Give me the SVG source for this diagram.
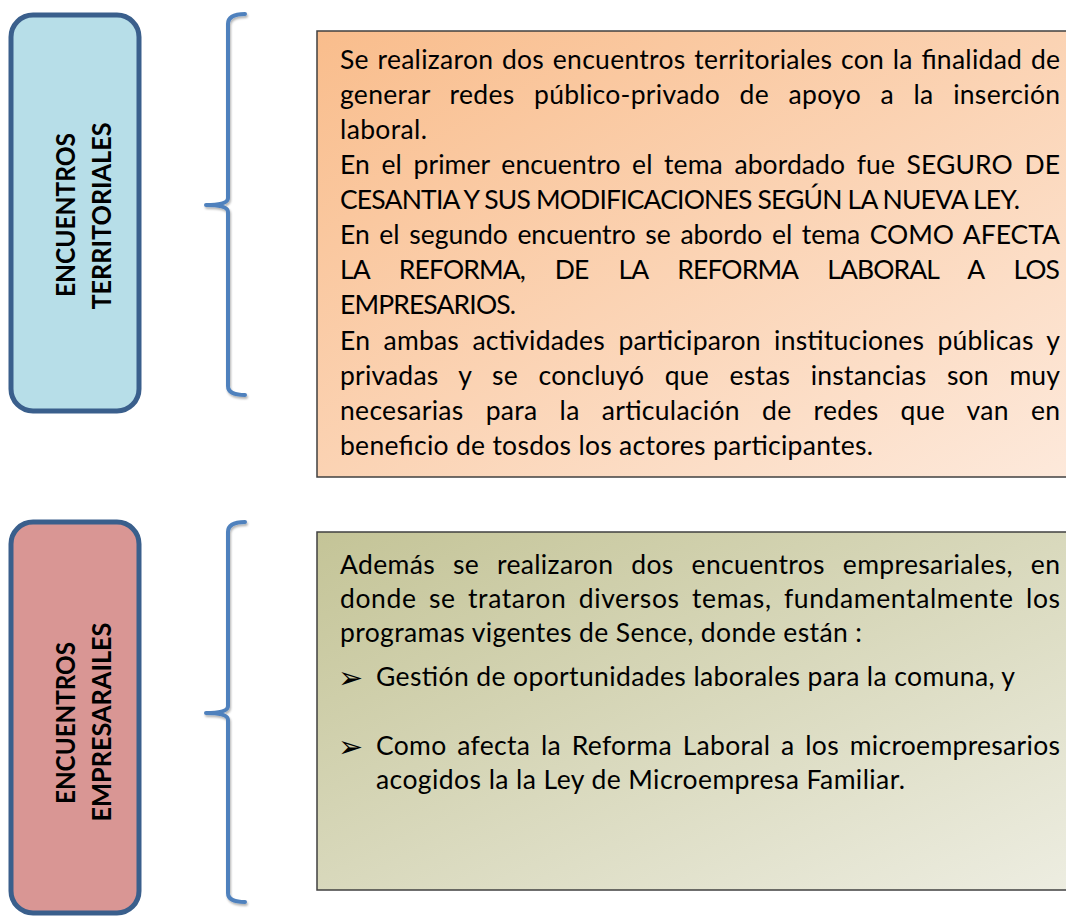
<svg xmlns="http://www.w3.org/2000/svg" width="1066" height="916" viewBox="0 0 1066 916">
  <defs>
    <linearGradient id="gOrange" x1="0" y1="0" x2="1" y2="1">
      <stop offset="0" stop-color="#F9BD8C"/>
      <stop offset="1" stop-color="#FDE9DB"/>
    </linearGradient>
    <linearGradient id="gOlive" x1="0" y1="0" x2="1" y2="1">
      <stop offset="0" stop-color="#C4C497"/>
      <stop offset="1" stop-color="#EDEDE1"/>
    </linearGradient>
    <filter id="shadow" x="-20%" y="-5%" width="140%" height="110%">
      <feDropShadow dx="1" dy="2" stdDeviation="1.2" flood-color="#000" flood-opacity="0.3"/>
    </filter>
  </defs>
  <style>
    .cat { stroke: #3A5F8C; stroke-width: 5; }
    .lbl { font-family: Lato, "Open Sans", "Liberation Sans", sans-serif; font-weight: bold; font-size: 26px; fill: #000; text-anchor: middle; }
    .brace { fill: none; stroke: #4F81BD; stroke-width: 4; stroke-linecap: round; stroke-linejoin: round; filter: url(#shadow); }
    .box { stroke: #404040; stroke-width: 1.5; }
    .t { font-family: Lato, "Open Sans", "Liberation Sans", sans-serif; font-size: 26.5px; fill: #000; }
    .bul { font-family: "DejaVu Sans", sans-serif; font-size: 30px; fill: #000; }
  </style>

  <rect width="1066" height="916" fill="#FFFFFF"/>

  <g id="node-territoriales">
    <rect class="cat" x="11" y="15" width="128" height="396" rx="22" fill="#B7DEE8"/>
    <text class="lbl" transform="translate(75,215) rotate(-90)" textLength="164" lengthAdjust="spacingAndGlyphs">ENCUENTROS</text>
    <text class="lbl" transform="translate(111,216) rotate(-90)" textLength="187" lengthAdjust="spacingAndGlyphs">TERRITORIALES</text>
  </g>

  <g id="node-empresariales">
    <rect class="cat" x="11" y="522" width="128" height="391" rx="22" fill="#D99694"/>
    <text class="lbl" transform="translate(75,723) rotate(-90)" textLength="162" lengthAdjust="spacingAndGlyphs">ENCUENTROS</text>
    <text class="lbl" transform="translate(111,722) rotate(-90)" textLength="199" lengthAdjust="spacingAndGlyphs">EMPRESARAILES</text>
  </g>

  <g id="connectors">
    <path class="brace" d="M245,14 Q228,14 228,24 L228,198 Q228,205 206,205 Q228,205 228,212 L228,386 Q228,395 245,395"/>
    <path class="brace" d="M245,522 Q228,522 228,532 L228,706 Q228,713 206,713 Q228,713 228,720 L228,893 Q228,902 245,902"/>
  </g>

  <g id="node-texto-territoriales">
    <rect class="box" x="317" y="31" width="752" height="446" fill="url(#gOrange)"/>
    <text class="t" x="340" y="69" word-spacing="1.6" textLength="720" lengthAdjust="spacing">Se realizaron dos encuentros territoriales con la finalidad de</text>
    <text class="t" x="340" y="104" word-spacing="12.5" textLength="720" lengthAdjust="spacing">generar redes público-privado de apoyo a la inserción</text>
    <text class="t" x="340" y="139" textLength="87" lengthAdjust="spacing">laboral.</text>
    <text class="t" x="340" y="174" word-spacing="4.7" textLength="720" lengthAdjust="spacing">En el primer encuentro el tema abordado fue SEGURO DE</text>
    <text class="t" x="340" y="209" textLength="680" lengthAdjust="spacing">CESANTIA Y SUS MODIFICACIONES SEGÚN LA NUEVA LEY.</text>
    <text class="t" x="340" y="244" word-spacing="2.9" textLength="720" lengthAdjust="spacing">En el segundo encuentro se abordo el tema COMO AFECTA</text>
    <text class="t" x="340" y="279" word-spacing="24" textLength="720" lengthAdjust="spacing">LA REFORMA, DE LA REFORMA LABORAL A LOS</text>
    <text class="t" x="340" y="314" textLength="176" lengthAdjust="spacing">EMPRESARIOS.</text>
    <text class="t" x="340" y="350" word-spacing="6.4" textLength="720" lengthAdjust="spacing">En ambas actividades participaron instituciones públicas y</text>
    <text class="t" x="340" y="385" word-spacing="13.6" textLength="720" lengthAdjust="spacing">privadas y se concluyó que estas instancias son muy</text>
    <text class="t" x="340" y="420" word-spacing="15" textLength="720" lengthAdjust="spacing">necesarias para la articulación de redes que van en</text>
    <text class="t" x="340" y="455" textLength="533" lengthAdjust="spacing">beneficio de tosdos los actores participantes.</text>
  </g>

  <g id="node-texto-empresariales">
    <rect class="box" x="317" y="532" width="752" height="358" fill="url(#gOlive)"/>
    <text class="t" x="340" y="574" word-spacing="10.8" textLength="720" lengthAdjust="spacing">Además se realizaron dos encuentros empresariales, en</text>
    <text class="t" x="340" y="608" word-spacing="5" textLength="720" lengthAdjust="spacing">donde se trataron diversos temas, fundamentalmente los</text>
    <text class="t" x="340" y="642" textLength="522" lengthAdjust="spacing">programas vigentes de Sence, donde están :</text>
    <text class="bul" x="338" y="688">➢</text>
    <text class="t" x="376" y="686" textLength="639" lengthAdjust="spacing">Gestión de oportunidades laborales para la comuna, y</text>
    <text class="bul" x="338" y="757">➢</text>
    <text class="t" x="376" y="755" word-spacing="3.7" textLength="684" lengthAdjust="spacing">Como afecta la Reforma Laboral a los microempresarios</text>
    <text class="t" x="376" y="789" textLength="529" lengthAdjust="spacing">acogidos la la Ley de Microempresa Familiar.</text>
  </g>
</svg>
